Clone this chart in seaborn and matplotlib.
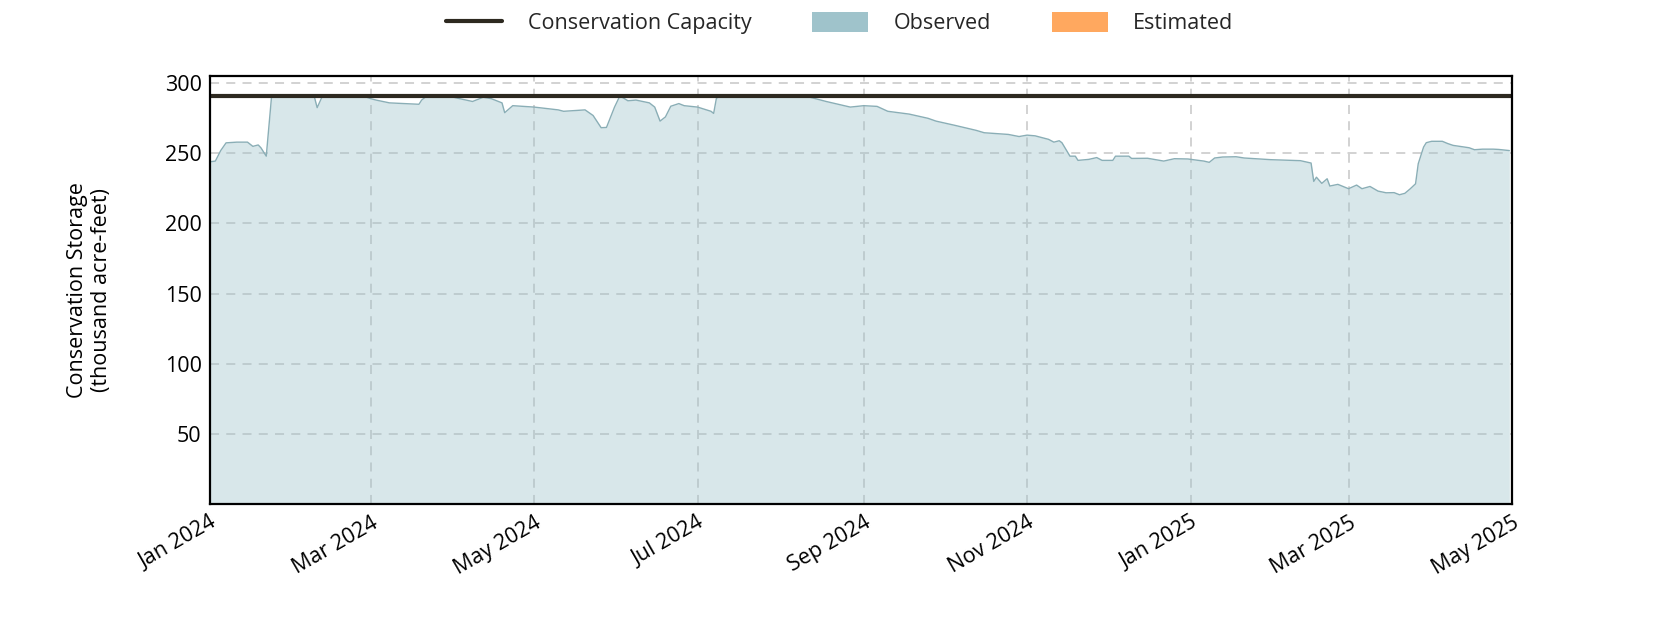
import numpy as np
import pandas as pd
import matplotlib
matplotlib.use("Agg")
import matplotlib.pyplot as plt
import matplotlib.dates as mdates
from matplotlib.lines import Line2D
from matplotlib.patches import Patch
import seaborn as sns

# ---------------- data ----------------
dates = [
    "2024-01-01", "2024-01-03", "2024-01-05", "2024-01-07", "2024-01-11", "2024-01-15",
    "2024-01-17", "2024-01-19", "2024-01-20", "2024-01-22", "2024-01-24", "2024-02-07",
    "2024-02-09", "2024-02-10", "2024-02-12", "2024-02-27", "2024-03-01", "2024-03-03",
    "2024-03-08", "2024-03-19", "2024-03-20", "2024-03-22", "2024-03-30", "2024-04-02",
    "2024-04-08", "2024-04-12", "2024-04-15", "2024-04-19", "2024-04-20", "2024-04-23",
    "2024-05-01", "2024-05-10", "2024-05-12", "2024-05-20", "2024-05-23", "2024-05-26",
    "2024-05-28", "2024-05-31", "2024-06-02", "2024-06-05", "2024-06-08", "2024-06-13",
    "2024-06-15", "2024-06-17", "2024-06-19", "2024-06-21", "2024-06-24", "2024-06-26",
    "2024-07-01", "2024-07-06", "2024-07-07", "2024-07-08", "2024-07-09", "2024-08-10",
    "2024-08-18", "2024-08-27", "2024-09-01", "2024-09-06", "2024-09-10", "2024-09-18",
    "2024-09-25", "2024-09-28", "2024-10-05", "2024-10-13", "2024-10-16", "2024-10-25",
    "2024-10-29", "2024-11-01", "2024-11-04", "2024-11-09", "2024-11-11", "2024-11-13",
    "2024-11-14", "2024-11-17", "2024-11-19", "2024-11-20", "2024-11-24", "2024-11-27",
    "2024-11-29", "2024-12-03", "2024-12-04", "2024-12-09", "2024-12-10", "2024-12-16",
    "2024-12-22", "2024-12-26", "2024-12-31", "2025-01-06", "2025-01-08", "2025-01-10",
    "2025-01-13", "2025-01-18", "2025-01-21", "2025-01-31", "2025-02-11", "2025-02-15",
    "2025-02-16", "2025-02-17", "2025-02-19", "2025-02-21", "2025-02-22", "2025-02-25",
    "2025-03-01", "2025-03-04", "2025-03-06", "2025-03-09", "2025-03-12", "2025-03-15",
    "2025-03-18", "2025-03-20", "2025-03-22", "2025-03-24", "2025-03-26", "2025-03-27",
    "2025-03-29", "2025-03-30", "2025-04-01", "2025-04-05", "2025-04-07", "2025-04-09",
    "2025-04-15", "2025-04-17", "2025-04-20", "2025-04-24", "2025-04-26", "2025-04-30",
]
storage = [
    244.0, 244.5, 252.0, 257.5, 258.0, 258.0,
    255.0, 256.0, 254.0, 248.0, 291.0, 291.0,
    290.0, 282.6, 291.0, 291.0, 289.0, 288.0,
    286.0, 285.0, 288.0, 291.0, 291.0, 289.5,
    287.0, 290.0, 289.0, 286.0, 279.0, 284.0,
    283.0, 281.0, 280.0, 281.0, 277.0, 268.3,
    268.5, 283.0, 291.0, 287.5, 288.0, 286.0,
    283.0, 273.0, 276.0, 283.6, 285.5, 284.0,
    283.0, 280.0, 278.5, 289.0, 291.0, 291.0,
    287.0, 283.0, 284.0, 283.5, 280.0, 278.0,
    275.0, 273.0, 270.0, 266.4, 264.7, 263.5,
    262.0, 263.0, 262.5, 260.0, 258.0, 259.0,
    257.6, 248.0, 248.0, 245.0, 245.7, 247.0,
    245.0, 245.0, 248.0, 248.0, 246.4, 246.5,
    244.5, 246.2, 246.0, 244.5, 243.6, 246.7,
    247.4, 247.6, 246.7, 245.5, 244.8, 243.1,
    230.0, 233.0, 228.6, 231.9, 226.7, 227.9,
    224.8, 227.4, 224.8, 226.4, 223.1, 221.9,
    222.0, 220.5, 221.5, 224.7, 228.3, 242.6,
    254.5, 257.6, 258.6, 258.6, 257.0, 255.7,
    254.0, 252.6, 253.0, 253.0, 252.8, 252.0,
]
capacity = 291.0
y_ticks = [50, 100, 150, 200, 250, 300]
legend_labels = ["Conservation Capacity", "Observed", "Estimated"]
y_label = "Conservation Storage\n(thousand acre-feet)"

df = pd.DataFrame({"date": pd.to_datetime(dates), "storage": storage})

# ---------------- style ----------------
sns.set_theme(style="white")
plt.rcParams["font.family"] = ["Open Sans", "DejaVu Sans"]

obs_color = "#9fc3cb"
est_color = "#ffa85f"
cap_color = "#2d2920"
FS = 15.5

fig = plt.figure(figsize=(16.8, 6.3), dpi=100)
ax = fig.add_axes([0.125, 0.2, 0.775, 0.679])

ax.fill_between(df["date"], df["storage"], 0, color=obs_color, alpha=0.4, linewidth=0, zorder=1)
sns.lineplot(data=df, x="date", y="storage", ax=ax, color="#8aaeb6", linewidth=1.0, zorder=2)
ax.axhline(capacity, color=cap_color, linewidth=3, zorder=4)

ax.set_ylim(0, 305)
ax.set_xlim(pd.Timestamp("2024-01-01"), pd.Timestamp("2025-05-01"))
ax.set_yticks(y_ticks)
ax.xaxis.set_major_locator(mdates.MonthLocator(bymonth=[1, 3, 5, 7, 9, 11]))
ax.xaxis.set_major_formatter(mdates.DateFormatter("%b %Y"))

ax.grid(True, linestyle=(0, (5, 4)), color="#cfcfcf", linewidth=1.3)
for gl in ax.get_xgridlines() + ax.get_ygridlines():
    gl.set_zorder(3)

for s in ax.spines.values():
    s.set_visible(True)
    s.set_color("black")
    s.set_linewidth(1.6)
    s.set_zorder(10)

ax.tick_params(axis="both", length=0, labelsize=FS, colors="black", pad=6)
plt.setp(ax.get_xticklabels(), rotation=30, ha="right", rotation_mode="anchor")
ax.set_xlabel("")
ax.set_ylabel(y_label, fontsize=FS, color="black", labelpad=38)

handles = [
    Line2D([0], [0], color=cap_color, linewidth=3),
    Patch(facecolor=obs_color, edgecolor="none"),
    Patch(facecolor=est_color, edgecolor="none"),
]
fig.legend(handles, legend_labels, loc="center", bbox_to_anchor=(0.5, 0.963), ncol=3,
           frameon=False, fontsize=FS, handlelength=2.6, handleheight=1.0,
           columnspacing=2.8, handletextpad=1.2)

fig.savefig("out.png", dpi=100)
